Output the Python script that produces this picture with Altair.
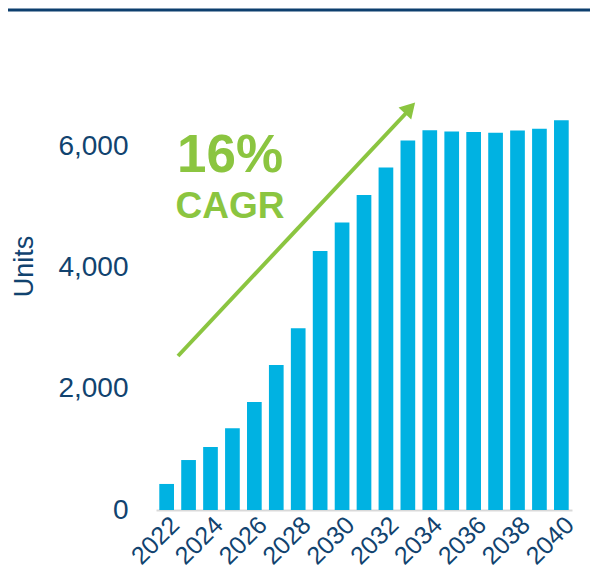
import altair as alt
import pandas as pd

# ---- data ----
years = list(range(2022, 2041))
units = [430, 825, 1040, 1350, 1785, 2395, 3000, 4275, 4745, 5200, 5655,
         6100, 6270, 6250, 6240, 6230, 6265, 6295, 6435]
y_ticks = [0, 2000, 4000, 6000]
x_label_years = [2022, 2024, 2026, 2028, 2030, 2032, 2034, 2036, 2038, 2040]
cagr_text = ["16%", "CAGR"]

df = pd.DataFrame({"Year": years, "Units": units})
one = pd.DataFrame({"k": [0]})

W, H = 416, 424
BLUE = "#00B2E2"
NAVY = "#11436F"
GREEN = "#8BC540"
FONT = "Liberation Sans"

bars = alt.Chart(df).mark_bar(color=BLUE).encode(
    x=alt.X(
        "Year:O",
        scale=alt.Scale(paddingInner=0.33, paddingOuter=0.15),
        axis=alt.Axis(
            values=x_label_years, title=None, labelAngle=-45,
            labelFontSize=25, labelColor=NAVY, labelFont=FONT,
            ticks=False, domainColor="#D9D9D9", domainWidth=2,
            labelPadding=2, labelOverlap=False,
        ),
    ),
    y=alt.Y(
        "Units:Q",
        scale=alt.Scale(domain=[0, 7000]),
        axis=alt.Axis(
            values=y_ticks, format=",.0f", title="Units",
            labelFontSize=28, labelColor=NAVY, labelFont=FONT,
            titleFontSize=27, titleColor=NAVY, titleFont=FONT,
            titleFontWeight="normal", ticks=False, domain=False,
            grid=False, labelPadding=28, titleX=-132, titleY=180,
            titleAngle=-90, titleAlign="center", titleBaseline="middle",
        ),
    ),
)

# arrow (pixel coordinates inside the plot area)
arrow_line = alt.Chart(one).mark_rule(color=GREEN, strokeWidth=4).encode(
    x=alt.value(22), y=alt.value(270), x2=alt.value(253), y2=alt.value(24)
)
arrow_head = alt.Chart(one).mark_point(
    shape="triangle-up", filled=True, color=GREEN, size=300, angle=43, opacity=1
).encode(x=alt.value(254), y=alt.value(22))

t1 = alt.Chart(one).mark_text(
    text=cagr_text[0], font=FONT, fontSize=53, fontWeight="bold", color=GREEN,
    align="center", baseline="alphabetic"
).encode(x=alt.value(74), y=alt.value(86))
t2 = alt.Chart(one).mark_text(
    text=cagr_text[1], font=FONT, fontSize=37, fontWeight="bold", color=GREEN,
    align="center", baseline="alphabetic"
).encode(x=alt.value(74), y=alt.value(132))

top_line = alt.Chart(one).mark_rule(color="#0D3F6E", strokeWidth=3).encode(
    x=alt.value(-148), x2=alt.value(434), y=alt.value(-76)
)

chart = alt.layer(bars, arrow_line, arrow_head, t1, t2, top_line).properties(
    width=W, height=H,
    autosize=alt.AutoSizeParams(type="none"),
    padding={"left": 148, "top": 78, "right": 20, "bottom": 66},
).configure_view(stroke=None)

chart.save("out.html", embed_options={"renderer": "svg", "actions": False})
